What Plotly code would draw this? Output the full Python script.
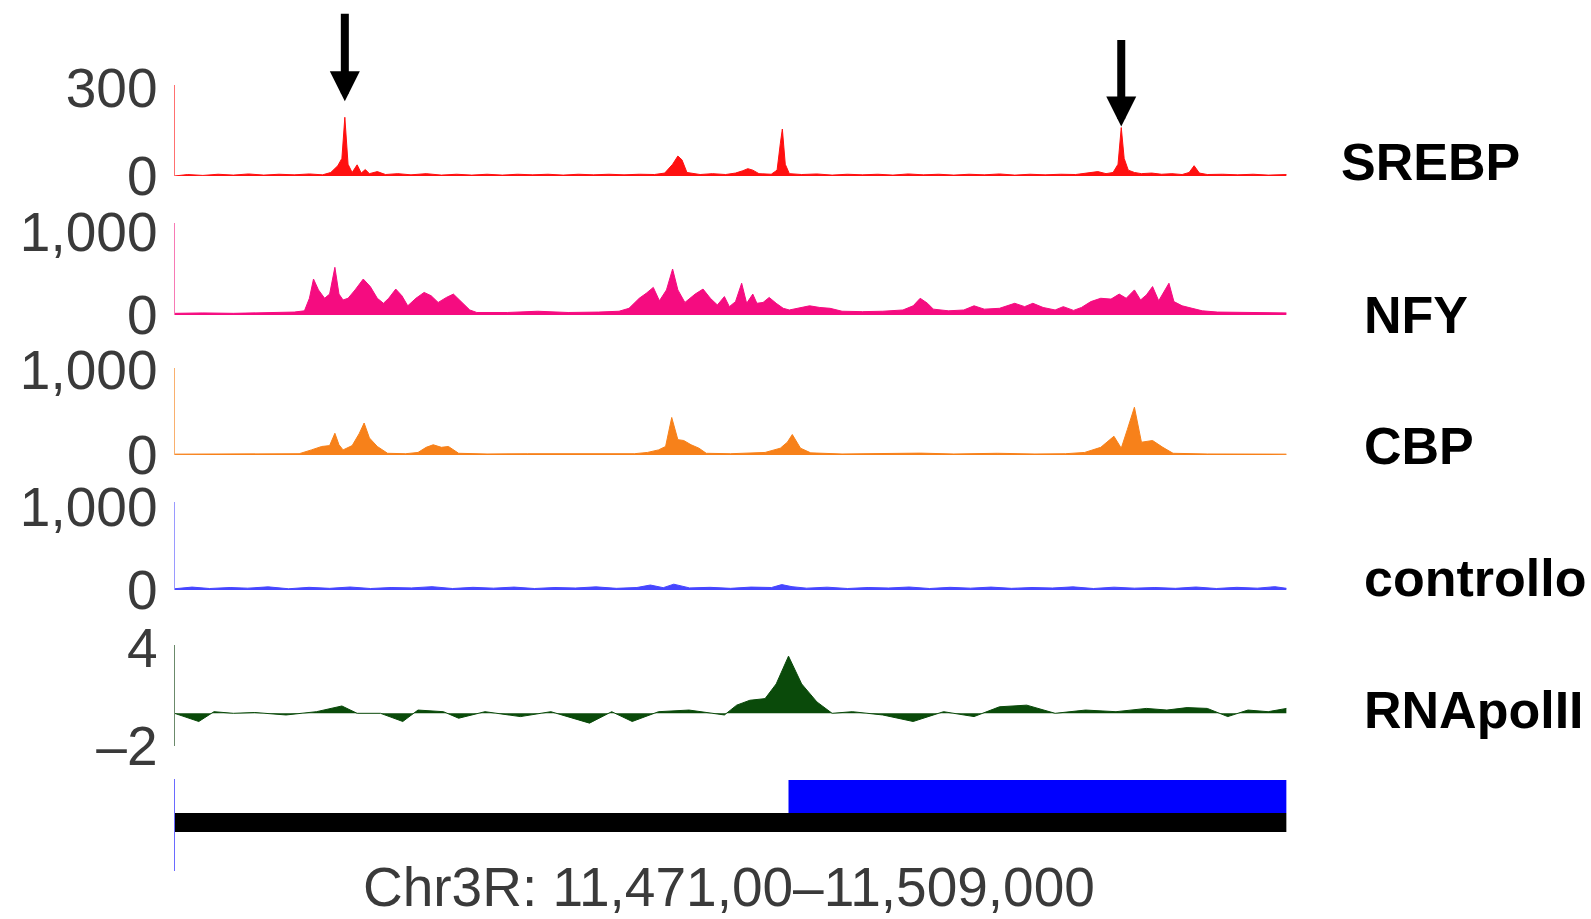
import plotly.graph_objects as go

W, H = 1591, 919

# ---------------- data (positions in kb from region start 11,471,000) ----------------
REGION_LABEL = "Chr3R: 11,471,00–11,509,000"
REGION_KB = [0, 38]

track_names = ["SREBP", "NFY", "CBP", "controllo", "RNApolII"]

srebp_pos = [0.00, 0.45, 0.97, 1.49, 2.01, 2.53, 3.05, 3.57, 4.09, 4.61, 5.06, 5.34, 5.58, 5.72,
             5.82, 5.93, 6.07, 6.24, 6.38, 6.52, 6.66, 6.93, 7.21, 7.63, 8.08, 8.60, 9.12, 9.64,
             10.16, 10.68, 11.20, 11.72, 12.24, 12.76, 13.28, 13.80, 14.32, 14.84, 15.36, 15.88,
             16.40, 16.75, 17.02, 17.20, 17.34, 17.51, 17.96, 18.38, 18.83, 19.17, 19.42, 19.59,
             19.76, 19.97, 20.39, 20.59, 20.70, 20.77, 20.87, 21.01, 21.43, 21.95, 22.47, 22.99,
             23.51, 24.03, 24.55, 25.07, 25.59, 26.11, 26.63, 27.15, 27.67, 28.19, 28.71, 29.23,
             29.75, 30.27, 30.79, 31.31, 31.55, 31.83, 32.07, 32.24, 32.35, 32.45, 32.59, 32.80,
             33.04, 33.39, 33.73, 34.08, 34.43, 34.67, 34.84, 35.02, 35.29, 35.81, 36.33, 36.86,
             37.37, 38.00]
srebp_val = [0, 5, 2, 6, 3, 7, 3, 6, 4, 7, 4, 12, 35, 60,
             200, 40, 12, 38, 10, 22, 8, 15, 5, 8, 4, 8, 3, 6,
             3, 6, 3, 6, 4, 6, 3, 6, 4, 6, 4, 6,
             5, 10, 40, 68, 55, 12, 5, 8, 5, 10, 18, 25,
             20, 8, 6, 20, 110, 160, 40, 8, 5, 7, 3, 6,
             4, 6, 3, 7, 4, 6, 3, 6, 4, 7, 3, 6,
             4, 6, 5, 12, 15, 8, 12, 40, 165, 60, 20, 12,
             8, 10, 6, 8, 5, 12, 35, 10, 5, 6, 4, 6,
             3, 5]

nfy_pos = [0.00, 0.97, 2.01, 3.05, 4.09, 4.44, 4.61, 4.75, 4.92, 5.13, 5.30, 5.48, 5.62, 5.76,
           5.93, 6.17, 6.45, 6.69, 6.93, 7.14, 7.32, 7.56, 7.77, 7.97, 8.25, 8.53, 8.77, 9.01,
           9.29, 9.53, 9.81, 10.09, 10.33, 11.37, 12.41, 13.45, 14.49, 15.19, 15.53, 15.88,
           16.12, 16.36, 16.57, 16.81, 17.02, 17.20, 17.44, 17.79, 18.06, 18.31, 18.55, 18.79,
           18.96, 19.17, 19.38, 19.55, 19.76, 19.90, 20.11, 20.32, 20.56, 20.80, 21.01, 21.36,
           21.70, 22.05, 22.40, 22.81, 23.51, 24.20, 24.89, 25.24, 25.48, 25.73, 25.93, 26.45,
           26.97, 27.32, 27.67, 28.19, 28.71, 29.05, 29.33, 29.68, 30.09, 30.37, 30.72, 30.99,
           31.31, 31.65, 32.00, 32.28, 32.52, 32.80, 33.01, 33.21, 33.42, 33.63, 33.84, 33.98,
           34.15, 34.43, 34.77, 35.12, 35.64, 36.68, 38.00]
nfy_val = [20, 25, 20, 30, 35, 50, 200, 430, 300, 200, 250, 570, 250, 180,
           200, 300, 430, 340, 200, 140, 200, 310, 230, 110, 200, 270, 230, 150,
           210, 250, 150, 60, 30, 30, 45, 30, 35, 45, 80, 200,
           260, 330, 170, 300, 550, 300, 150, 250, 310, 200, 120, 220,
           100, 160, 380, 140, 250, 140, 150, 210, 140, 80, 60, 90,
           110, 90, 80, 45, 40, 45, 60, 110, 200, 140, 70, 50,
           60, 110, 70, 80, 140, 100, 140, 90, 60, 100, 55, 90,
           160, 200, 190, 250, 200, 300, 180, 240, 340, 170, 300, 380,
           160, 110, 80, 50, 35, 30, 25]

cbp_pos = [0.00, 0.97, 2.36, 3.54, 4.26, 4.68, 5.03, 5.30, 5.48, 5.62, 5.76, 6.07, 6.31, 6.48,
           6.66, 6.93, 7.28, 7.90, 8.32, 8.60, 8.84, 9.12, 9.36, 9.71, 10.68, 12.07, 13.45, 14.84,
           15.71, 16.16, 16.54, 16.78, 16.99, 17.20, 17.40, 17.65, 17.92, 18.17, 19.00, 20.18,
           20.70, 20.94, 21.11, 21.39, 21.74, 22.81, 24.20, 25.48, 26.63, 28.12, 29.40, 30.44,
           31.10, 31.65, 32.10, 32.35, 32.56, 32.80, 33.04, 33.42, 33.77, 34.12, 35.29, 36.68,
           38.00]
cbp_val = [10, 12, 10, 20, 15, 60, 100, 110, 255, 120, 60, 110, 250, 375,
           200, 100, 20, 15, 30, 90, 120, 90, 100, 20, 12, 15, 12, 15,
           15, 30, 60, 100, 440, 180, 170, 120, 80, 20, 15, 30,
           80, 150, 240, 80, 25, 12, 15, 22, 12, 20, 12, 15,
           30, 90, 220, 80, 300, 560, 150, 170, 90, 20, 12, 10,
           10]

ctrl_pos = [0.0, 0.6, 1.2, 1.9, 2.5, 3.2, 3.9, 4.6, 5.3, 6.0, 6.7, 7.4, 8.1, 8.8, 9.5, 10.2,
            10.9, 11.6, 12.3, 13.0, 13.7, 14.4, 15.1, 15.8, 16.26, 16.7, 17.06, 17.6, 18.3,
            19.0, 19.7, 20.4, 20.75, 21.1, 21.6, 22.3, 23.0, 23.7, 24.4, 25.1, 25.8, 26.5,
            27.2, 27.9, 28.6, 29.3, 30.0, 30.7, 31.4, 32.1, 32.8, 33.5, 34.2, 34.9, 35.6,
            36.3, 37.0, 37.6, 38.0]
ctrl_val = [15, 35, 18, 30, 22, 38, 15, 32, 20, 36, 18, 30, 25, 40, 18, 32,
            22, 35, 18, 30, 24, 38, 20, 30, 60, 28, 70, 25, 32,
            20, 35, 30, 65, 40, 22, 34, 18, 30, 24, 36, 18, 32,
            22, 35, 20, 30, 24, 38, 18, 34, 22, 30, 20, 36, 18,
            32, 22, 40, 20]

pol_pos = [0.00, 0.83, 1.35, 2.01, 2.74, 3.81, 4.85, 5.72, 6.24, 7.04, 7.80, 8.32, 9.19, 9.71,
           10.61, 11.82, 12.86, 14.18, 14.94, 15.64, 16.54, 17.58, 18.79, 19.21, 19.66, 20.18,
           20.56, 20.98, 21.43, 21.95, 22.47, 23.16, 24.20, 25.24, 26.28, 27.32, 28.19, 29.12,
           30.09, 31.13, 32.17, 33.21, 33.91, 34.60, 35.29, 35.99, 36.68, 37.37, 38.00]
pol_val = [0.0, -0.5, 0.1, 0.0, 0.05, -0.1, 0.1, 0.45, 0.0, 0.0, -0.5, 0.2, 0.1, -0.3,
           0.1, -0.2, 0.1, -0.6, 0.1, -0.5, 0.1, 0.2, -0.1, 0.5, 0.8, 0.9,
           1.8, 3.5, 1.8, 0.7, 0.0, 0.1, -0.1, -0.5, 0.1, -0.2, 0.4, 0.5,
           0.0, 0.2, 0.1, 0.3, 0.2, 0.35, 0.3, -0.2, 0.2, 0.1, 0.3]

gene_start = [0.0, 20.98]
gene_end = [38.0, 38.0]
gene_colors = ["#000000", "#0000ff"]

arrow_pos = [5.82, 32.35]
arrow_val = [200, 165]

# tick definitions per track
tick_vals = [[0, 300], [0, 1000], [0, 1000], [0, 1000], [-2, 4]]
tick_text = [["0", "300"], ["0", "1,000"], ["0", "1,000"], ["0", "1,000"], ["–2", "4"]]

# ---------------- styling / layout ----------------
colors = ["#ff1010", "#f50c80", "#f7811a", "#4646ff", "#0a4a0a"]
axis_colors = ["#ff7070", "#f77ab5", "#f9b06e", "#9a9aff", "#6b8a6b"]
# (top px, bottom px) of each track panel
panels = [(85, 176), (223, 315), (368, 455), (502, 590), (644.7, 746)]
ranges = [[0, 310], [0, 1100], [0, 1020], [0, 1060], [-2, 4.2]]
label_y = [162, 315, 446, 578, 710]
label_x = [1339, 1362, 1362, 1362, 1362]

X0, X1 = 174.5, 1286.6

def dom(top, bottom):
    return [1 - bottom / H, 1 - top / H]

series = [(srebp_pos, srebp_val), (nfy_pos, nfy_val), (cbp_pos, cbp_val),
          (ctrl_pos, ctrl_val), (pol_pos, pol_val)]

fig = go.Figure()
layout = dict(
    width=W, height=H, autosize=False,
    margin=dict(l=0, r=0, t=0, b=0, pad=0),
    paper_bgcolor="white", plot_bgcolor="rgba(0,0,0,0)",
    showlegend=False,
    font=dict(family="Liberation Sans, Arial, sans-serif", color="#3a3a3a"),
)

for i, (pos, val) in enumerate(series):
    n = i + 1
    xa = "x" if n == 1 else f"x{n}"
    ya = "y" if n == 1 else f"y{n}"
    fig.add_trace(go.Scatter(x=pos, y=val, mode="lines", fill="tozeroy",
                             line=dict(color=colors[i], width=1),
                             fillcolor=colors[i], xaxis=xa, yaxis=ya,
                             hoverinfo="skip"))
    layout["xaxis" if n == 1 else f"xaxis{n}"] = dict(
        domain=[X0 / W, X1 / W], range=REGION_KB, visible=False,
        anchor=ya, fixedrange=True, automargin=False)
    layout["yaxis" if n == 1 else f"yaxis{n}"] = dict(
        domain=dom(*panels[i]), range=ranges[i], anchor=xa,
        showgrid=False, zeroline=False, showline=True,
        linecolor=axis_colors[i], linewidth=1,
        tickmode="array", tickvals=tick_vals[i], ticktext=tick_text[i],
        ticks="", ticklabelstandoff=5, automargin=False,
        tickfont=dict(size=55, color="#3a3a3a",
                      family="Liberation Sans, Arial, sans-serif"),
        fixedrange=True)

# gene track (6th panel)
bar_centers = [0.527, 0.81]
bar_widths = [0.207, 0.359]
for j in range(len(gene_start)):
    fig.add_trace(go.Bar(orientation="h", y=[bar_centers[j]],
                         x=[gene_end[j] - gene_start[j]], base=[gene_start[j]],
                         width=[bar_widths[j]], marker=dict(color=gene_colors[j], line=dict(width=0)),
                         xaxis="x6", yaxis="y6", hoverinfo="skip"))
layout["xaxis6"] = dict(domain=[X0 / W, X1 / W], range=REGION_KB, visible=False,
                        anchor="y6", fixedrange=True, automargin=False)
layout["yaxis6"] = dict(domain=dom(779, 871), range=[0, 1], anchor="x6",
                        showgrid=False, zeroline=False, showline=True,
                        linecolor="#6a6aff", linewidth=1, showticklabels=False,
                        ticks="", fixedrange=True, automargin=False)
layout["barmode"] = "overlay"

annotations = []
for i, name in enumerate(track_names):
    annotations.append(dict(
        text=f"<b>{name}</b>", xref="paper", yref="paper",
        x=label_x[i] / W, y=1 - label_y[i] / H, xanchor="left", yanchor="middle",
        showarrow=False,
        font=dict(size=52, color="#000000", family="Liberation Sans, Arial, sans-serif")))

annotations.append(dict(
    text=REGION_LABEL, xref="paper", yref="paper",
    x=728.6 / W, y=1 - 887 / H, xanchor="center", yanchor="middle",
    showarrow=False, borderpad=0,
    font=dict(size=55, color="#3a3a3a", family="Liberation Sans, Arial, sans-serif")))

arrow_ay = [-105, -89]
arrow_standoff = [16, 1]
for k in range(len(arrow_pos)):
    annotations.append(dict(
        x=arrow_pos[k], y=arrow_val[k], xref="x", yref="y", text="",
        showarrow=True, arrowhead=2, arrowsize=0.75, arrowwidth=8,
        arrowcolor="#000000", ax=0, ay=arrow_ay[k], standoff=arrow_standoff[k]))

layout["annotations"] = annotations
fig.update_layout(**layout)
fig.write_html("out.html")
